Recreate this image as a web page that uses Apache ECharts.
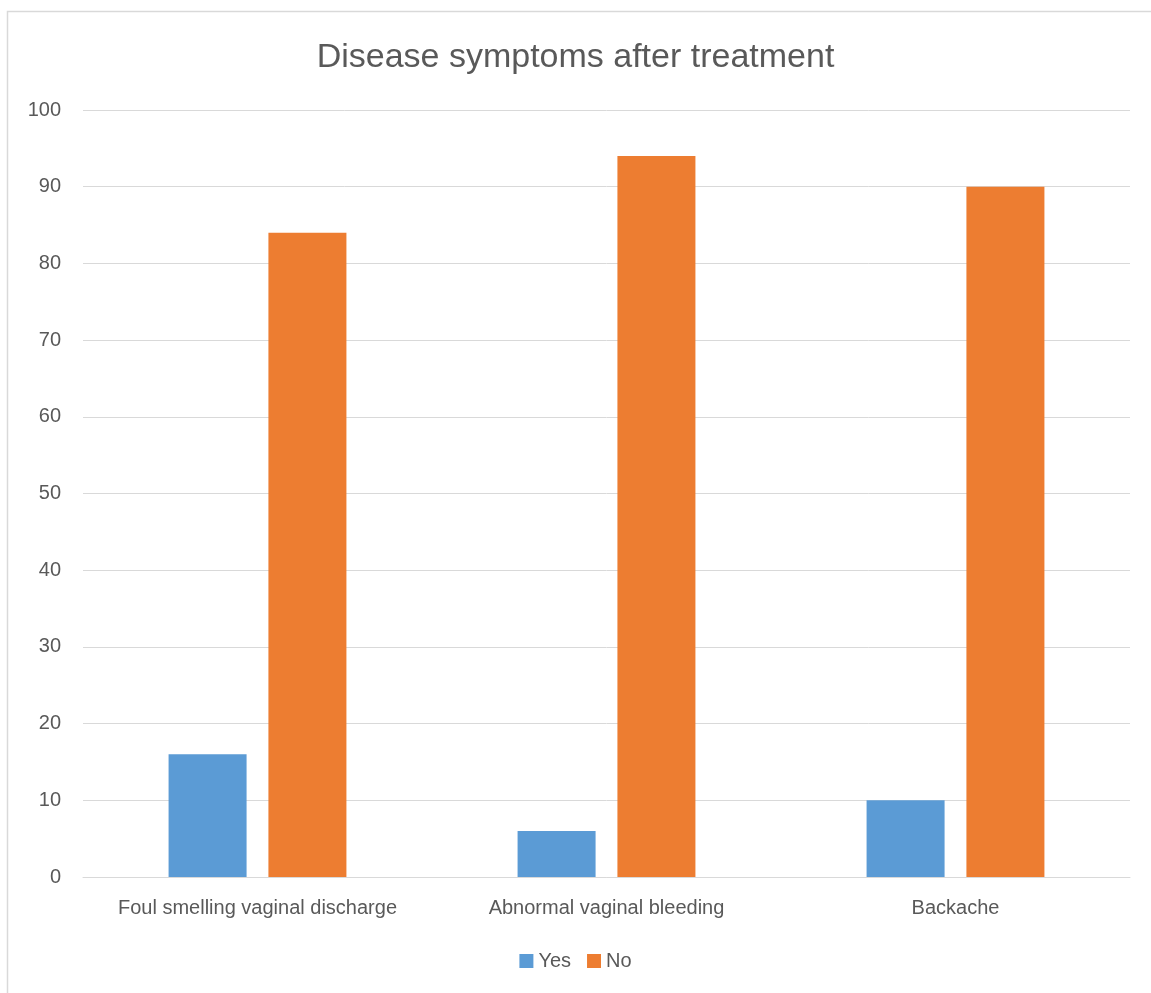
<!DOCTYPE html>
<html><head><meta charset="utf-8">
<script src="https://cdn.jsdelivr.net/npm/echarts@6/dist/echarts.min.js"></script>
<style>html,body{margin:0;padding:0;background:#fff}#c{width:1151px;height:993px}</style>
</head><body><div id="c"></div>
<script>
const categories = ['Foul smelling vaginal discharge', 'Abnormal vaginal bleeding', 'Backache'];
const yesValues = [16, 6, 10];
const noValues = [84, 94, 90];
const seriesNames = ['Yes', 'No'];
const titleText = 'Disease symptoms after treatment';

const FONT = '"Liberation Sans", "Open Sans", sans-serif';
const chart = echarts.init(document.getElementById('c'), null, {renderer: 'canvas'});
chart.setOption({
  animation: false,
  textStyle: {fontFamily: FONT},
  graphic: [{type: 'rect', shape: {x: 7.5, y: 11.5, width: 1200, height: 1100}, style: {fill: 'none', stroke: '#d9d9d9', lineWidth: 1.5}, silent: true}],
  title: {text: titleText, left: 'center', top: 36, textStyle: {fontSize: 34, fontWeight: 'normal', color: '#595959', fontFamily: FONT}},
  legend: {data: seriesNames, bottom: 17, left: 'center', itemWidth: 14, itemHeight: 14, itemGap: 16, icon: 'rect',
    textStyle: {fontSize: 20, color: '#595959', fontFamily: FONT}},
  grid: {left: 83, right: 21, top: 110, bottom: 116, containLabel: false},
  xAxis: {type: 'category', data: categories,
    axisLine: {lineStyle: {color: '#d9d9d9', width: 1}}, axisTick: {show: false},
    axisLabel: {interval: 0, hideOverlap: false, fontSize: 20, color: '#595959', margin: 21, fontFamily: FONT}},
  yAxis: {type: 'value', min: 0, max: 100, interval: 10,
    axisLine: {show: false}, axisTick: {show: false},
    splitLine: {lineStyle: {color: '#d9d9d9', width: 1}},
    axisLabel: {fontSize: 20, color: '#595959', margin: 22, fontFamily: FONT}},
  series: [
    {name: seriesNames[0], type: 'bar', data: yesValues, barWidth: 78, barGap: '28%', itemStyle: {color: '#5b9bd5'}},
    {name: seriesNames[1], type: 'bar', data: noValues, barWidth: 78, barGap: '28%', itemStyle: {color: '#ed7d31'}}
  ]
});
</script></body></html>
